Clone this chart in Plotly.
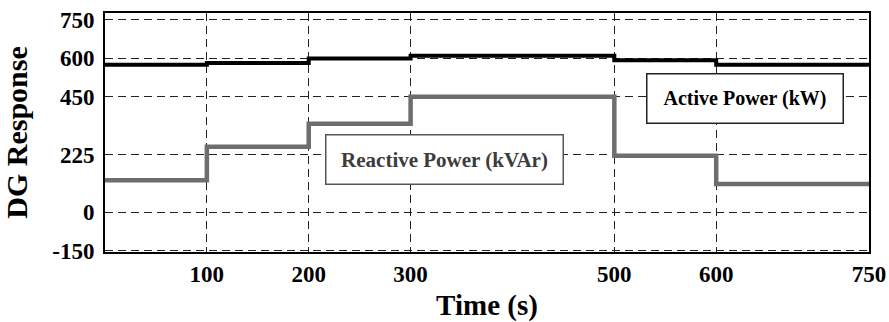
import plotly.graph_objects as go

# Switching instants (s) and the DG set-points held after each instant
time_s = [0, 100, 200, 300, 500, 600, 750]
active_kw = [575, 582, 600, 610, 593, 575]
reactive_kvar = [125, 255, 345, 450, 220, 110]

x_ticks = [100, 200, 300, 500, 600, 750]
y_ticks = [-150, 0, 225, 450, 600, 750]

FONT = "Liberation Serif"


def steps(values):
    # hold the last level until the end of the time axis
    return values + [values[-1]]


fig = go.Figure()
fig.add_trace(go.Scatter(
    x=time_s, y=steps(reactive_kvar), mode="lines", line_shape="hv",
    line=dict(color="#6e6e6e", width=4.5), name="Reactive Power (kVAr)",
))
fig.add_trace(go.Scatter(
    x=time_s, y=steps(active_kw), mode="lines", line_shape="hv",
    line=dict(color="#000000", width=4), name="Active Power (kW)",
))

fig.add_annotation(
    x=333, y=204, xref="x", yref="y", showarrow=False,
    text="<b>Reactive Power (kVAr)</b>",
    font=dict(family=FONT, size=21, color="#3c3c3c"),
    bgcolor="white", bordercolor="#555555", borderwidth=1.5, borderpad=0,
    width=236, height=48,
)
fig.add_annotation(
    x=628, y=443, xref="x", yref="y", showarrow=False,
    text="<b>Active Power (kW)</b>",
    font=dict(family=FONT, size=20, color="#000000"),
    bgcolor="white", bordercolor="#222222", borderwidth=1.5, borderpad=0,
    width=195, height=48,
)

axis_common = dict(
    showline=True, linecolor="black", linewidth=2, mirror=True,
    showgrid=True, gridcolor="#222222", gridwidth=1, griddash="8px,5px",
    zeroline=False, ticks="", automargin=False,
    tickfont=dict(family=FONT, size=23, color="black", weight="bold"),
)

fig.update_xaxes(
    range=[0, 750], tickvals=x_ticks, ticktext=[str(v) for v in x_ticks],
    title=dict(text="<b>Time (s)</b>", font=dict(family=FONT, size=29, color="black"), standoff=14),
    ticklabelstandoff=0,
    **axis_common,
)
fig.update_yaxes(
    range=[-155, 777], tickvals=y_ticks, ticktext=[str(v) for v in y_ticks],
    title=dict(text="<b>DG Response</b>", font=dict(family=FONT, size=30, color="black"), standoff=18),
    ticklabelstandoff=4,
    **axis_common,
)

fig.update_layout(
    width=889, height=322,
    margin=dict(l=105, r=20, t=13, b=70),
    plot_bgcolor="white", paper_bgcolor="white",
    showlegend=False,
)

fig.write_html("out.html")
